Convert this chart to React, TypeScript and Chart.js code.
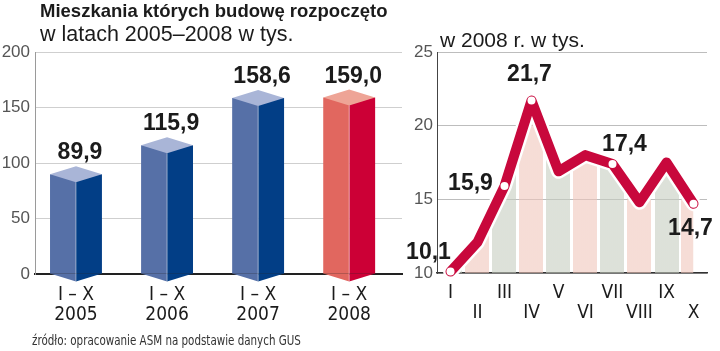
import React, { useEffect, useRef } from 'react';
import { Chart, registerables } from 'chart.js';

Chart.register(...registerables);

// ---------- data ----------
const years = ['2005', '2006', '2007', '2008'];
const periodLabel = 'I – X';
const yearValues = [89.9, 115.9, 158.6, 159.0];
const yearTicks = [0, 50, 100, 150, 200];

const months = ['I', 'II', 'III', 'IV', 'V', 'VI', 'VII', 'VIII', 'IX', 'X'];
const monthValues = [10.1, 12.1, 15.9, 21.7, 16.9, 18.0, 17.4, 14.8, 17.5, 14.7];
const monthTicks = [10, 15, 20, 25];
const labelledMonths = [0, 2, 3, 6, 9];

// ---------- styles ----------
const NARROW = '"Liberation Sans Narrow", "DejaVu Sans Condensed", "Liberation Sans", sans-serif';
const SANS = '"Liberation Sans", Arial, sans-serif';
const INK = '#1b1b1b';

const faceLeft = ['#5670a7', '#5670a7', '#5670a7', '#e1675f'];
const faceRight = ['#023e86', '#023e86', '#023e86', '#cc0036'];
const faceTop = ['#a9b5d7', '#a9b5d7', '#a9b5d7', '#eea496'];
const columnColors = ['rgba(198,205,192,0.6)', 'rgba(240,198,187,0.6)'];
const LINE_RED = '#c8083c';

// label placement around points (dx, dy of baseline centre)
const monthLabelOffsets: Record<number, [number, number]> = {
  0: [-22, -13],
  2: [-34, 4],
  3: [-2, -20],
  6: [12, -13],
  9: [-3, 31],
};

const fmt = (v: number) => v.toFixed(1).replace('.', ',');

const box3dPlugin = {
  id: 'box3d',
  afterDatasetsDraw(chart: any) {
    const ctx = chart.ctx;
    const m0 = chart.getDatasetMeta(0);
    const m1 = chart.getDatasetMeta(1);
    const d = 8;
    m0.data.forEach((el0: any, i: number) => {
      const el1 = m1.data[i];
      const a = el0.getProps(['x', 'y', 'base', 'width'], true);
      const b = el1.getProps(['x', 'y', 'base', 'width'], true);
      const L = a.x - a.width / 2;
      const M = (a.x + a.width / 2 + b.x - b.width / 2) / 2;
      const R = b.x + b.width / 2;
      const y = a.y;
      const base = a.base;
      ctx.save();
      ctx.beginPath();
      ctx.moveTo(L, y);
      ctx.lineTo(M, y - d);
      ctx.lineTo(R, y);
      ctx.lineTo(M, y + d);
      ctx.closePath();
      ctx.fillStyle = faceTop[i];
      ctx.fill();
      ctx.beginPath();
      ctx.moveTo(L, base);
      ctx.lineTo(M, base);
      ctx.lineTo(M, base + d);
      ctx.closePath();
      ctx.fillStyle = faceLeft[i];
      ctx.fill();
      ctx.beginPath();
      ctx.moveTo(M, base);
      ctx.lineTo(R, base);
      ctx.lineTo(M, base + d);
      ctx.closePath();
      ctx.fillStyle = faceRight[i];
      ctx.fill();
      ctx.beginPath();
      ctx.moveTo(M, y + d);
      ctx.lineTo(M, base + d);
      ctx.strokeStyle = 'rgba(255,255,255,0.45)';
      ctx.lineWidth = 1;
      ctx.stroke();
      ctx.fillStyle = INK;
      ctx.font = 'bold 23px ' + SANS;
      ctx.textAlign = 'center';
      ctx.textBaseline = 'alphabetic';
      ctx.fillText(fmt(yearValues[i]), M + 4, y - d - 7);
      ctx.restore();
    });
  },
};

const pointLabelPlugin = {
  id: 'pointLabels',
  afterDatasetsDraw(chart: any) {
    const ctx = chart.ctx;
    const meta = chart.getDatasetMeta(0);
    ctx.save();
    ctx.fillStyle = INK;
    ctx.font = 'bold 23px ' + SANS;
    ctx.textAlign = 'center';
    ctx.textBaseline = 'alphabetic';
    labelledMonths.forEach((i) => {
      const el = meta.data[i];
      const [dx, dy] = monthLabelOffsets[i];
      ctx.fillText(fmt(monthValues[i]), el.x + dx, el.y + dy);
    });
    ctx.restore();
  },
};

const columnFill = (c: any) => {
  const chart = c.chart;
  const area = chart.chartArea;
  const xs = chart.scales && chart.scales.x;
  if (!area || !xs) return 'rgba(0,0,0,0)';
  const W = area.right - area.left;
  const g = chart.ctx.createLinearGradient(area.left, 0, area.right, 0);
  const step = xs.getPixelForValue(1) - xs.getPixelForValue(0);
  const gap = 1.5;
  const clamp = (p: number) => Math.min(1, Math.max(0, (p - area.left) / W));
  const clear = 'rgba(255,255,255,0)';
  months.forEach((_, i) => {
    const cx = xs.getPixelForValue(i);
    const a = clamp(cx - step / 2 + gap);
    const b = clamp(cx + step / 2 - gap);
    const col = columnColors[i % 2];
    g.addColorStop(a, clear);
    g.addColorStop(a, col);
    g.addColorStop(b, col);
    g.addColorStop(b, clear);
  });
  return g;
};

export default function App() {
  const leftRef = useRef<HTMLCanvasElement>(null);
  const rightRef = useRef<HTMLCanvasElement>(null);

  useEffect(() => {
    const pts = yearValues.map((v, i) => ({ x: i, y: v }));
    const left = new Chart(leftRef.current as HTMLCanvasElement, {
      type: 'bar',
      data: {
        datasets: [
          { data: pts, backgroundColor: faceLeft, borderWidth: 0, categoryPercentage: 0.57, barPercentage: 1 },
          { data: pts, backgroundColor: faceRight, borderWidth: 0, categoryPercentage: 0.57, barPercentage: 1 },
        ],
      } as any,
      options: {
        responsive: false,
        animation: false,
        layout: { padding: { top: 52, right: 3, bottom: 17, left: 0 } },
        plugins: { legend: { display: false }, tooltip: { enabled: false } },
        scales: {
          x: {
            type: 'linear',
            min: -0.45,
            max: 3.58,
            offset: false,
            grid: { display: false, drawTicks: false },
            border: { display: true, color: '#222', width: 2 },
            afterBuildTicks: (s: any) => {
              s.ticks = years.map((_, i) => ({ value: i }));
            },
            afterFit: (s: any) => {
              s.height = 60;
            },
            ticks: {
              autoSkip: false,
              maxRotation: 0,
              padding: 11,
              color: INK,
              font: { family: NARROW, size: 19, lineHeight: 1.05 },
              callback: (v: any) => [periodLabel, years[v]],
            },
          },
          y: {
            min: 0,
            max: 200,
            afterBuildTicks: (s: any) => {
              s.ticks = yearTicks.map((v) => ({ value: v }));
            },
            afterFit: (s: any) => {
              s.width = 35;
            },
            grid: { color: '#cfcfcf', drawTicks: false },
            border: { color: '#9a9a9a', width: 1 },
            ticks: { padding: 5, color: '#555', font: { family: SANS, size: 17 } },
          },
        },
      } as any,
      plugins: [box3dPlugin],
    });

    const right = new Chart(rightRef.current as HTMLCanvasElement, {
      type: 'line',
      data: {
        labels: months,
        datasets: [
          {
            data: monthValues,
            order: 1,
            clip: false,
            borderColor: LINE_RED,
            borderWidth: 10,
            borderJoinStyle: 'round',
            borderCapStyle: 'round',
            tension: 0,
            fill: false,
            pointRadius: monthValues.map((_, i) => (labelledMonths.includes(i) ? 4 : 0)),
            pointBackgroundColor: '#ffffff',
            pointBorderWidth: 0,
          },
          {
            data: monthValues,
            order: 2,
            clip: false,
            borderColor: '#ffffff',
            borderWidth: 15,
            borderJoinStyle: 'round',
            borderCapStyle: 'round',
            tension: 0,
            fill: false,
            pointRadius: 0,
          },
          {
            data: monthValues,
            order: 3,
            borderColor: 'rgba(0,0,0,0)',
            borderWidth: 0,
            tension: 0,
            fill: 'start',
            backgroundColor: columnFill,
            pointRadius: 0,
          },
        ],
      } as any,
      options: {
        responsive: false,
        animation: false,
        layout: { padding: { top: 52, right: 13, bottom: 18, left: 0 } },
        plugins: { legend: { display: false }, tooltip: { enabled: false } },
        scales: {
          x: {
            offset: true,
            grid: { display: false, drawTicks: false, offset: true },
            border: { display: true, color: '#333', width: 1.5 },
            afterFit: (s: any) => {
              s.height = 60;
            },
            ticks: {
              autoSkip: false,
              maxRotation: 0,
              padding: 10,
              color: INK,
              font: { family: NARROW, size: 19, lineHeight: 1.05 },
              callback: (_v: any, i: number) => (i % 2 === 0 ? [months[i], ''] : ['', months[i]]),
            },
          },
          y: {
            min: 10,
            max: 25,
            afterBuildTicks: (s: any) => {
              s.ticks = monthTicks.map((v) => ({ value: v }));
            },
            afterFit: (s: any) => {
              s.width = 32;
            },
            grid: { color: '#bdbdbd', drawTicks: false },
            border: { color: '#444', width: 1 },
            ticks: { padding: 4, color: '#555', font: { family: SANS, size: 17 } },
          },
        },
      } as any,
      plugins: [pointLabelPlugin],
    });

    return () => {
      left.destroy();
      right.destroy();
    };
  }, []);

  return (
    <div style={{ position: 'absolute', left: 0, top: 0, width: 720, height: 351, background: '#fff', overflow: 'hidden' }}>
      <canvas ref={leftRef} width={405} height={351} style={{ position: 'absolute', left: 0, top: 0, width: 405, height: 351 }} />
      <canvas ref={rightRef} width={315} height={351} style={{ position: 'absolute', left: 405, top: 0, width: 315, height: 351 }} />
      <div style={{ position: 'absolute', left: 40, top: 1, font: 'bold 18.5px ' + SANS, lineHeight: '19px', color: INK, whiteSpace: 'nowrap' }}>
        Mieszkania których budowę rozpoczęto
      </div>
      <div style={{ position: 'absolute', left: 40, top: 24, font: '21.5px ' + SANS, lineHeight: '21px', color: INK, whiteSpace: 'nowrap' }}>
        w latach 2005–2008 w tys.
      </div>
      <div style={{ position: 'absolute', left: 440, top: 29, font: '21px ' + SANS, lineHeight: '21px', color: INK, whiteSpace: 'nowrap' }}>
        w 2008 r. w tys.
      </div>
      <div
        style={{
          position: 'absolute',
          left: 32,
          top: 333,
          font: '14px ' + NARROW,
          lineHeight: '14px',
          color: '#333',
          whiteSpace: 'nowrap',
          transform: 'scaleX(0.82)',
          transformOrigin: 'left top',
        }}
      >
        źródło: opracowanie ASM na podstawie danych GUS
      </div>
    </div>
  );
}
